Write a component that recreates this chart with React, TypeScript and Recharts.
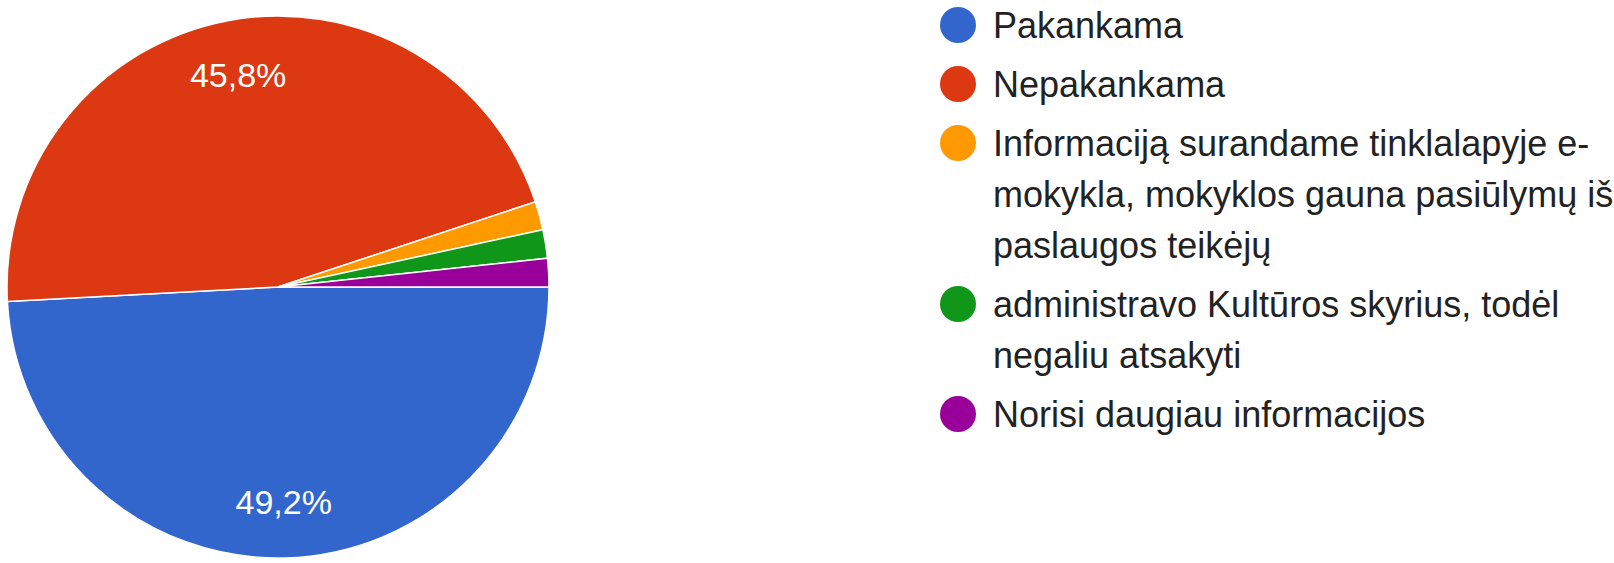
import { PieChart, Pie, Cell, Legend } from 'recharts';

// atsakymų skaičius (59 respondentai)
const categories = [
  'Pakankama',
  'Nepakankama',
  'Informaciją surandame tinklalapyje e-\nmokykla, mokyklos gauna pasiūlymų iš\npaslaugos teikėjų',
  'administravo Kultūros skyrius, todėl\nnegaliu atsakyti',
  'Norisi daugiau informacijos',
];
const counts = [29, 27, 1, 1, 1];
const colors = ['#3366CC', '#DC3912', '#FF9900', '#109618', '#990099'];

const data = categories.map((name, i) => ({ name, value: counts[i] }));

const FONT = '"Liberation Sans", Arial, sans-serif';
const RADIAN = Math.PI / 180;

const renderLabel = (props: any) => {
  const { cx, cy, midAngle, outerRadius, percent } = props;
  if (percent < 0.05) return null;
  const r = outerRadius * 0.795;
  const x = cx + r * Math.cos(-midAngle * RADIAN);
  const y = cy + r * Math.sin(-midAngle * RADIAN);
  return (
    <text
      x={x}
      y={y}
      fill="#ffffff"
      textAnchor="middle"
      dominantBaseline="central"
      fontSize={34}
      fontFamily={FONT}
    >
      {`${(percent * 100).toFixed(1).replace('.', ',')}%`}
    </text>
  );
};

const renderLegend = () => (
  <div style={{ fontFamily: FONT, fontSize: 36, color: '#222222', lineHeight: '51px' }}>
    {categories.map((name, i) => (
      <div key={i} style={{ display: 'flex', alignItems: 'flex-start', marginBottom: 8 }}>
        <span
          style={{
            display: 'inline-block',
            width: 36,
            height: 36,
            borderRadius: '50%',
            background: colors[i],
            marginTop: 7,
            marginRight: 17,
            flexShrink: 0,
          }}
        />
        <span style={{ whiteSpace: 'pre' }}>{name}</span>
      </div>
    ))}
  </div>
);

export default function App() {
  return (
    <div style={{ position: 'absolute', left: 0, top: 0, width: 1614, height: 563, background: '#fff' }}>
      <PieChart width={1614} height={563} margin={{ top: 0, right: 0, bottom: 0, left: 0 }}>
        <Pie
          data={data}
          dataKey="value"
          nameKey="name"
          cx={278}
          cy={287}
          outerRadius={271}
          startAngle={0}
          endAngle={-360}
          stroke="#ffffff"
          strokeWidth={1.5}
          label={renderLabel}
          labelLine={false}
          isAnimationActive={false}
        >
          {data.map((_, i) => (
            <Cell key={i} fill={colors[i]} />
          ))}
        </Pie>
        <Legend
          layout="vertical"
          align="right"
          verticalAlign="top"
          content={renderLegend}
          wrapperStyle={{ left: 940, top: 0, width: 674 }}
        />
      </PieChart>
    </div>
  );
}
